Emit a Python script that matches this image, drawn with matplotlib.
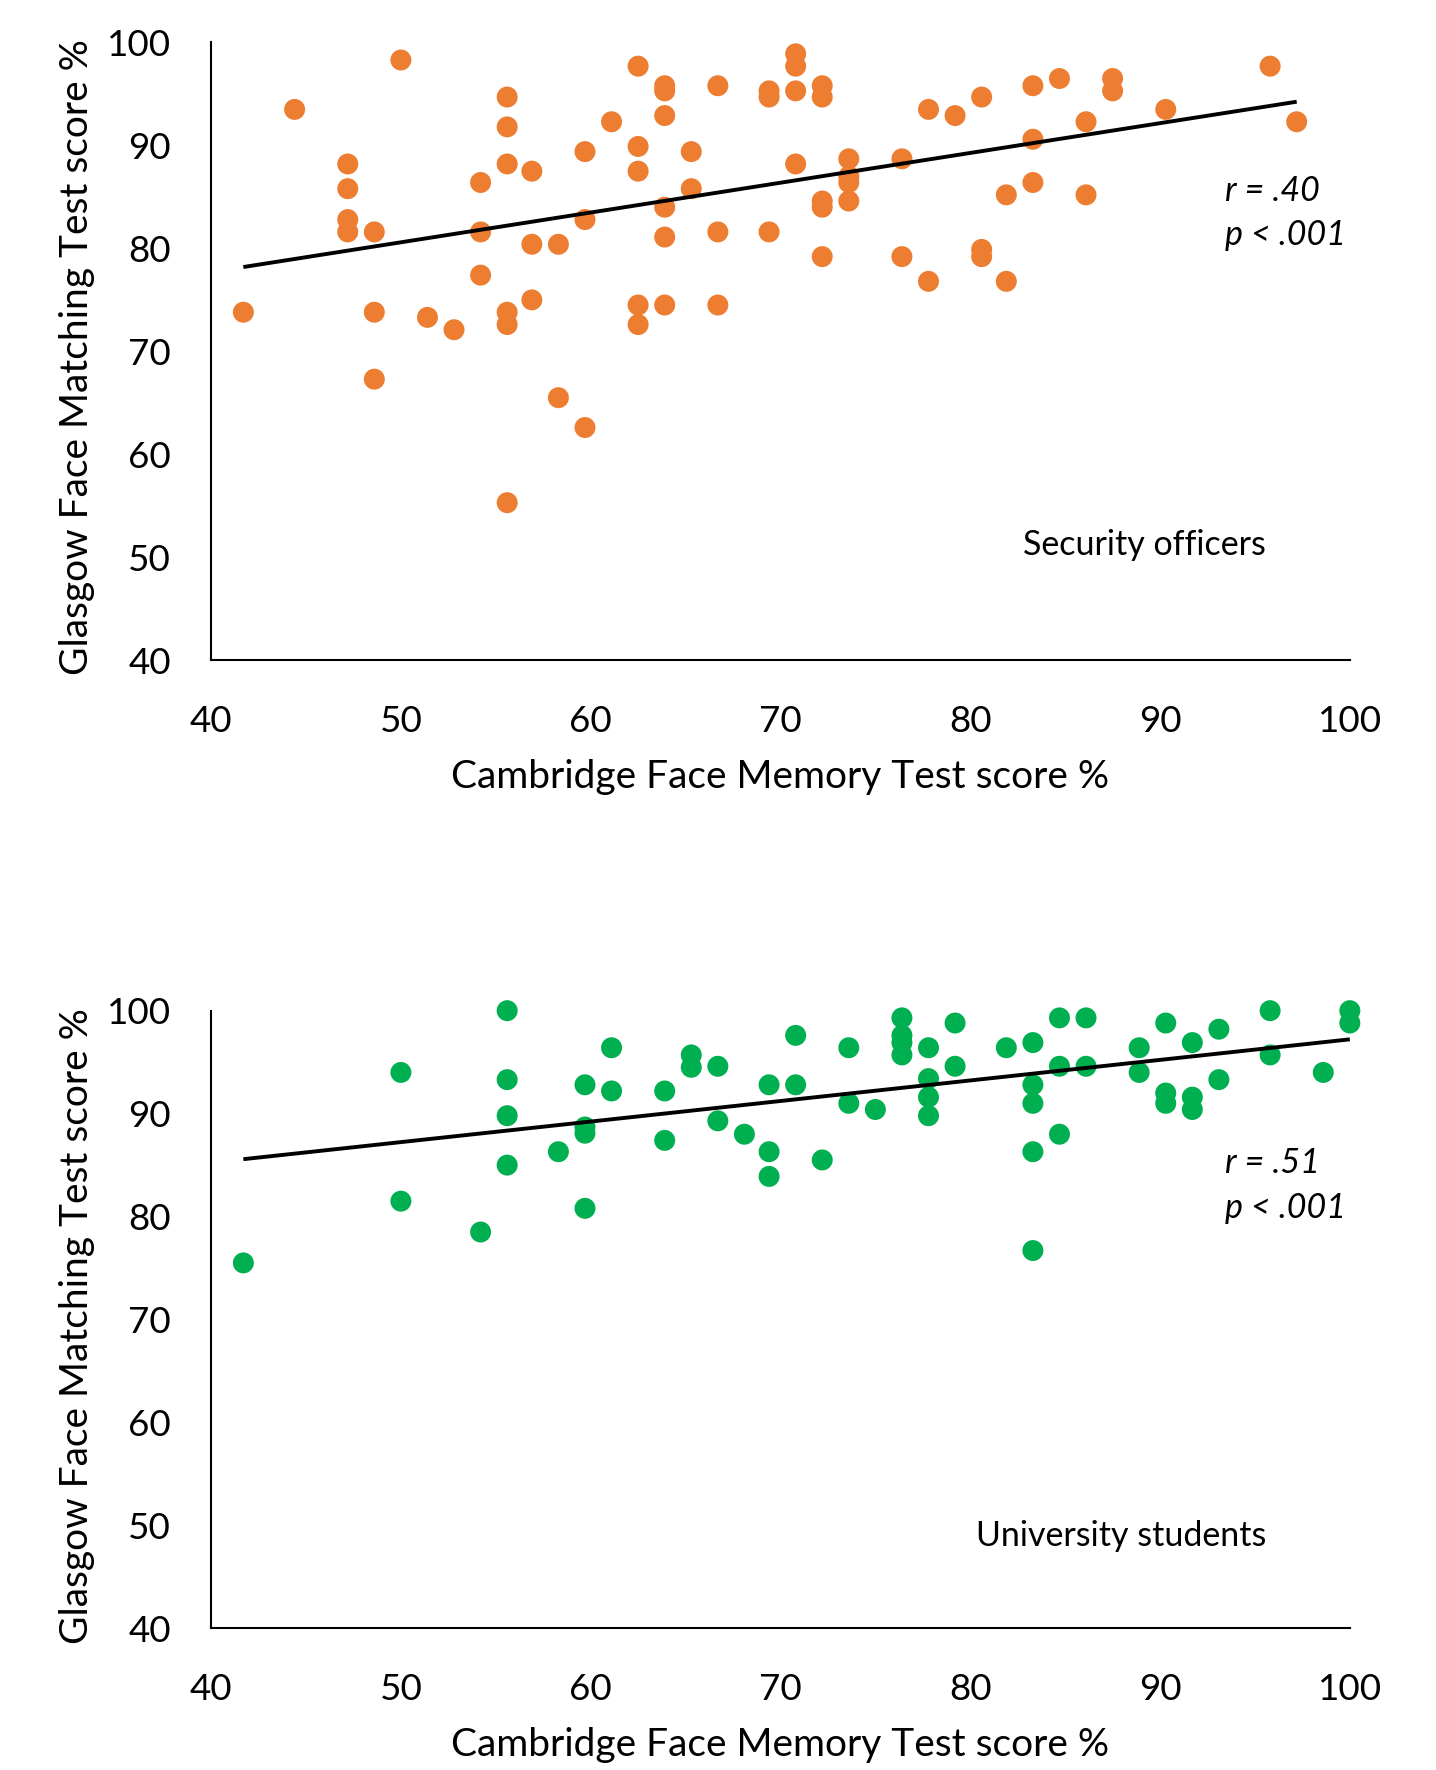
import matplotlib.pyplot as plt
import numpy as np

plt.rcParams['font.family'] = ['Lato', 'DejaVu Sans']

# Security officers: CFMT % (x) vs GFMT % (y)
officers_cfmt = [41.7, 44.4, 47.2, 47.2, 47.2, 47.2, 48.6, 48.6, 48.6, 50.0,
                 51.4, 52.8, 54.2, 54.2, 54.2, 55.6, 55.6, 55.6, 55.6, 55.6,
                 55.6, 56.9, 56.9, 56.9, 58.3, 58.3, 59.7, 59.7, 59.7, 61.1,
                 62.5, 62.5, 62.5, 62.5, 62.5, 63.9, 63.9, 63.9, 63.9, 63.9,
                 63.9, 65.3, 65.3, 66.7, 66.7, 66.7, 69.4, 69.4, 69.4, 70.8,
                 70.8, 70.8, 70.8, 72.2, 72.2, 72.2, 72.2, 72.2, 73.6, 73.6,
                 73.6, 73.6, 76.4, 76.4, 77.8, 77.8, 79.2, 80.6, 80.6, 80.6,
                 81.9, 81.9, 83.3, 83.3, 83.3, 84.7, 86.1, 86.1, 87.5, 87.5,
                 90.3, 95.8, 97.2]
officers_gfmt = [73.8, 93.5, 88.2, 85.8, 82.8, 81.6, 81.6, 73.8, 67.3, 98.3,
                 73.3, 72.1, 86.4, 81.6, 77.4, 94.7, 91.8, 88.2, 73.8, 72.6,
                 55.3, 87.5, 80.4, 75.0, 80.4, 65.5, 89.4, 82.8, 62.6, 92.3,
                 97.7, 89.9, 87.5, 74.5, 72.6, 95.8, 95.3, 92.9, 84.0, 81.1,
                 74.5, 89.4, 85.8, 95.8, 81.6, 74.5, 95.3, 94.7, 81.6, 98.9,
                 97.7, 95.3, 88.2, 95.8, 94.7, 84.6, 84.0, 79.2, 88.7, 87.0,
                 86.4, 84.6, 88.7, 79.2, 93.5, 76.8, 92.9, 94.7, 79.9, 79.2,
                 85.2, 76.8, 95.8, 90.6, 86.4, 96.5, 92.3, 85.2, 96.5, 95.3,
                 93.5, 97.7, 92.3]

# University students
students_cfmt = [41.7, 50.0, 50.0, 54.2, 55.6, 55.6, 55.6, 55.6, 58.3, 59.7,
                 59.7, 59.7, 59.7, 61.1, 61.1, 63.9, 63.9, 65.3, 65.3, 66.7,
                 66.7, 68.1, 69.4, 69.4, 69.4, 70.8, 70.8, 72.2, 73.6, 73.6,
                 75.0, 76.4, 76.4, 76.4, 76.4, 77.8, 77.8, 77.8, 77.8, 79.2,
                 79.2, 81.9, 83.3, 83.3, 83.3, 83.3, 83.3, 84.7, 84.7, 84.7,
                 86.1, 86.1, 88.9, 88.9, 90.3, 90.3, 90.3, 91.7, 91.7, 91.7,
                 93.1, 93.1, 95.8, 95.8, 98.6, 100.0, 100.0]
students_gfmt = [75.5, 94.0, 81.5, 78.5, 100.0, 93.3, 89.8, 85.0, 86.3, 92.8,
                 88.7, 88.1, 80.8, 96.4, 92.2, 92.2, 87.4, 95.7, 94.5, 94.6,
                 89.3, 88.0, 92.8, 86.3, 83.9, 97.6, 92.8, 85.5, 96.4, 91.0,
                 90.4, 99.3, 97.6, 96.9, 95.7, 96.4, 93.4, 91.6, 89.8, 98.8,
                 94.6, 96.4, 96.9, 92.8, 91.0, 86.3, 76.7, 99.3, 94.6, 88.0,
                 99.3, 94.6, 96.4, 94.0, 98.8, 92.0, 91.0, 96.9, 91.6, 90.4,
                 98.2, 93.3, 100.0, 95.7, 94.0, 100.0, 98.8]

ticks = [40, 50, 60, 70, 80, 90, 100]

# data, colour, labels, axes bottom, y of group label / r / p texts
panels = [
    (officers_cfmt, officers_gfmt, '#ED7D31', 'Security officers', 'r = .40',
     0.627, (51.2, 85.6, 81.3)),
    (students_cfmt, students_gfmt, '#00B050', 'University students', 'r = .51',
     0.080, (49.0, 85.2, 80.8)),
]

fig = plt.figure(figsize=(14.36, 17.7), dpi=100)

for xs, ys, color, group, r_text, bottom, text_y in panels:
    ax = fig.add_axes([0.147, bottom, 0.793, 0.349])
    ax.scatter(xs, ys, s=228, color=color, edgecolors='none', clip_on=False, zorder=2)

    # least-squares trend line
    slope, intercept = np.polyfit(xs, ys, 1)
    lx = np.array([min(xs), max(xs)])
    ax.plot(lx, slope * lx + intercept, color='black', lw=2.8, zorder=3,
            solid_capstyle='butt')

    ax.set_xlim(40, 100)
    ax.set_ylim(40, 100)
    ax.set_xticks(ticks)
    ax.set_yticks(ticks)
    ax.tick_params(length=0, labelsize=26.5)
    ax.tick_params(axis='x', pad=32)
    ax.tick_params(axis='y', pad=29)
    for side in ['top', 'right']:
        ax.spines[side].set_visible(False)
    for side in ['left', 'bottom']:
        ax.spines[side].set_linewidth(1.5)

    ax.set_xlabel('Cambridge Face Memory Test score %', fontsize=28)
    ax.set_ylabel('Glasgow Face Matching Test score %', fontsize=28)
    ax.xaxis.set_label_coords(0.5, -0.16)
    ax.yaxis.set_label_coords(-0.102, 0.49)

    ax.text(95.6, text_y[0], group, fontsize=24.5, ha='right', va='center')
    ax.text(93.4, text_y[1], r_text, fontsize=24.5, style='italic', ha='left', va='center')
    ax.text(93.4, text_y[2], 'p < .001', fontsize=24.5, style='italic', ha='left', va='center')

plt.savefig('out.png', dpi=100)
plt.close()
